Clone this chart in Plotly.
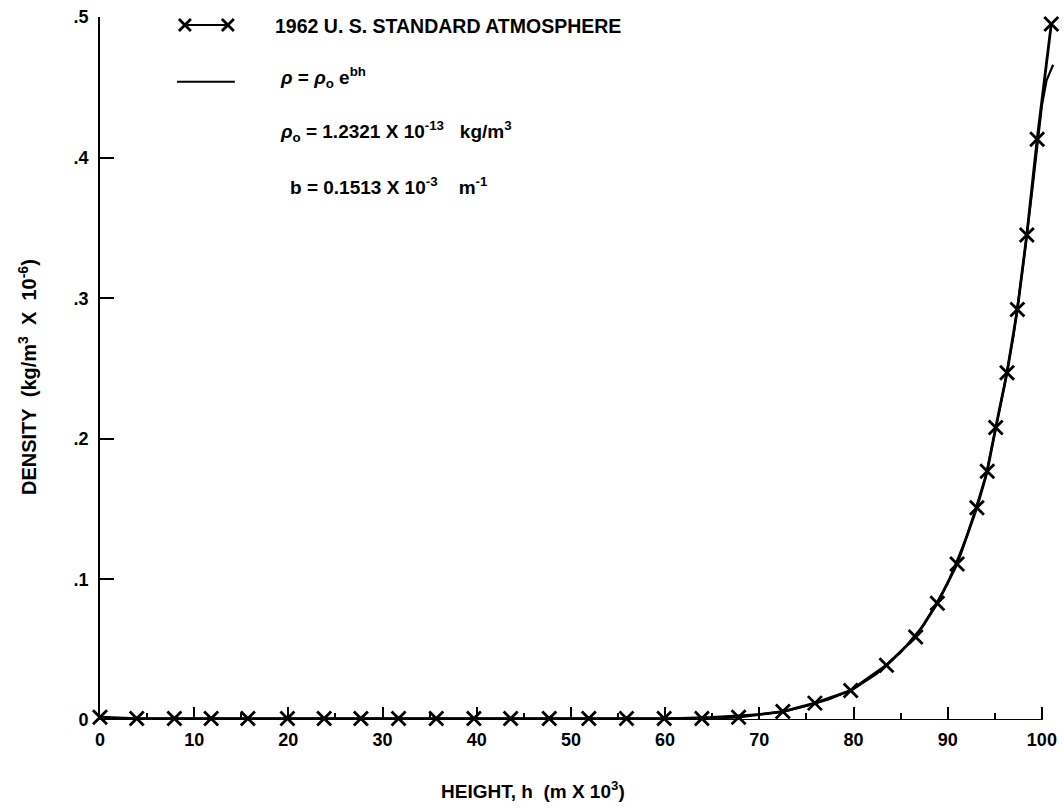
import plotly.graph_objects as go

# 1962 U.S. Standard Atmosphere: height (km) and density (kg/m^3 x 1e-6)
h_std = [0, 3.9, 7.9, 11.8, 15.7, 19.9, 23.8, 27.7, 31.7, 35.7, 39.7, 43.6,
         47.7, 51.9, 55.9, 59.9, 63.9, 67.8, 72.5, 75.9, 79.7, 83.5, 86.6,
         88.9, 91.0, 93.1, 94.2, 95.1, 96.3, 97.4, 98.4, 99.5, 101.0]
rho_std = [0.002, 0.001, 0.001, 0.001, 0.001, 0.001, 0.001, 0.001, 0.001,
           0.001, 0.001, 0.001, 0.001, 0.001, 0.001, 0.001, 0.001, 0.002,
           0.006, 0.012, 0.021, 0.039, 0.059, 0.083, 0.111, 0.151, 0.177,
           0.208, 0.247, 0.292, 0.345, 0.413, 0.495]

# Exponential fit rho = rho_o * exp(b h)
h_fit = [0, 10, 20, 30, 40, 50, 60, 65, 70, 72.5, 75, 77.5, 80, 82.5, 85,
         87.5, 90, 92, 94, 95, 96, 97, 98, 99, 99.5, 100, 100.5, 101.2]
rho_fit = [0.001, 0.001, 0.001, 0.001, 0.001, 0.001, 0.001, 0.002, 0.004,
           0.006, 0.010, 0.015, 0.022, 0.033, 0.048, 0.068, 0.097, 0.130,
           0.172, 0.204, 0.237, 0.274, 0.323, 0.378, 0.410, 0.437, 0.455,
           0.466]

x_ticks = [0, 10, 20, 30, 40, 50, 60, 70, 80, 90, 100]
y_ticks = [0, 0.1, 0.2, 0.3, 0.4, 0.5]
y_ticktext = ["0", ".1", ".2", ".3", ".4", ".5"]

W, H = 1064, 808
L, R, T, B = 100, 7, 15, 88
PW, PH = W - L - R, H - T - B
FONT = "Liberation Sans, Arial, Helvetica, sans-serif"
SP = "\u00a0"


def px(x):
    return (x - L) / PW


def py(y):
    return (H - B - y) / PH


fig = go.Figure()
fig.add_trace(go.Scatter(
    x=h_fit, y=rho_fit, mode="lines", line=dict(color="black", width=2.2),
    cliponaxis=False, showlegend=False, hoverinfo="skip"))
fig.add_trace(go.Scatter(
    x=h_std, y=rho_std, mode="lines+markers",
    line=dict(color="black", width=2.8),
    marker=dict(symbol="x-thin", size=14, color="black",
                line=dict(color="black", width=2.8)),
    cliponaxis=False, showlegend=False))

shapes = [
    # horizontal axis line ending at the last tick
    dict(type="line", xref="x", yref="y", x0=0, x1=100, y0=0, y1=0,
         line=dict(color="black", width=2)),
    # legend glyphs
    dict(type="line", xref="paper", yref="paper", x0=px(185), x1=px(228),
         y0=py(23), y1=py(23), line=dict(color="black", width=2)),
    dict(type="line", xref="paper", yref="paper", x0=px(177), x1=px(235),
         y0=py(80), y1=py(80), line=dict(color="black", width=2)),
]
for cx in (185, 228):
    d = 6
    shapes.append(dict(
        type="path", xref="paper", yref="paper",
        path=(f"M{px(cx - d)},{py(23 - d)} L{px(cx + d)},{py(23 + d)} "
              f"M{px(cx - d)},{py(23 + d)} L{px(cx + d)},{py(23 - d)}"),
        line=dict(color="black", width=2.8)))

bold = dict(family=FONT, size=19, color="black", weight="bold")
annotations = [
    dict(text="1962 U. S. STANDARD ATMOSPHERE", x=px(273), y=py(24),
         xanchor="left", yanchor="middle",
         font=dict(family=FONT, size=19.5, color="black", weight="bold")),
    dict(text="<i>ρ</i> = <i>ρ</i><sub>o</sub> e<sup>bh</sup>", x=px(278),
         y=py(76), xanchor="left", yanchor="middle", font=bold),
    dict(text=(f"<i>ρ</i><sub>o</sub> = 1.2321 X 10<sup>-13</sup>{SP}{SP}{SP}"
               f"kg/m<sup>3</sup>"),
         x=px(278), y=py(130), xanchor="left", yanchor="middle", font=bold),
    dict(text=f"b = 0.1513 X 10<sup>-3</sup>{SP}{SP}{SP}{SP}m<sup>-1</sup>",
         x=px(288), y=py(184), xanchor="left", yanchor="middle", font=bold),
    dict(text=f"HEIGHT, h{SP}{SP}(m X 10<sup>3</sup>)", x=px(533), y=py(790),
         xanchor="center", yanchor="middle", font=bold),
    dict(text=(f"DENSITY{SP}{SP}(kg/m<sup>3</sup>{SP}{SP}X{SP}{SP}"
               f"10<sup>-6</sup>)"),
         x=px(28), y=py(376), xanchor="center", yanchor="middle",
         textangle=-90,
         font=dict(family=FONT, size=20, color="black", weight="bold")),
]
for a in annotations:
    a.update(xref="paper", yref="paper", showarrow=False)

tickfont = dict(family=FONT, size=18, color="black", weight="bold")
fig.update_layout(
    width=W, height=H, margin=dict(l=L, r=R, t=T, b=B),
    paper_bgcolor="white", plot_bgcolor="white",
    shapes=shapes, annotations=annotations,
    xaxis=dict(range=[0, 101.5], tickvals=x_ticks, showgrid=False,
               zeroline=False, showline=False, ticks="inside", ticklen=13,
               tickwidth=1.6, tickcolor="black", ticklabelstandoff=7,
               tickfont=tickfont,
               minor=dict(dtick=5, tick0=0, ticks="inside", ticklen=7,
                          tickwidth=1.6, tickcolor="black", showgrid=False)),
    yaxis=dict(range=[0, 0.5], tickvals=y_ticks, ticktext=y_ticktext,
               showgrid=False, zeroline=False, showline=True, linewidth=2,
               linecolor="black", ticks="inside", ticklen=14, tickwidth=2,
               tickcolor="black", ticklabelstandoff=6, tickfont=tickfont),
)

fig.write_html("out.html")
